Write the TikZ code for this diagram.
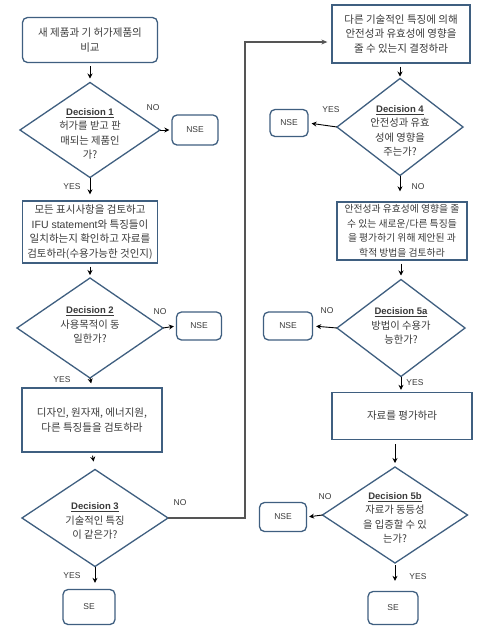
\documentclass[tikz,border=0pt]{standalone}
\usepackage{fontspec}
\setmainfont{Liberation Sans}
\newfontfamily\kr{Noto Sans CJK KR}
\usetikzlibrary{arrows.meta}
\definecolor{bord}{HTML}{3F5F80}
\definecolor{txt}{HTML}{3A3A3A}
\definecolor{conn}{HTML}{555555}
\tikzset{
  base/.style={draw=bord, line width=1.3pt, text=txt, align=center, inner sep=0pt},
  rbox/.style={base, rounded corners=5pt},
  sbox/.style={base},
  dtext/.style={text=txt, align=center, font=\fontsize{10.3}{14.5}\selectfont},
  btext/.style={font=\fontsize{10.5}{14.7}\selectfont},
  arr/.style={draw=black, line width=0.9pt, -{Stealth[length=5pt,width=5pt]}},
  lab/.style={text=txt, font=\fontsize{8.5}{10}\selectfont, inner sep=0pt},
}
\newcommand\mydia[5]{%
  \draw[draw=bord, line width=1.3pt] (#2-#4/2,#3) -- (#2,#3-#5/2) -- (#2+#4/2,#3) -- (#2,#3+#5/2) -- cycle;
  \coordinate (#1-l) at (#2-#4/2,#3);
  \coordinate (#1-r) at (#2+#4/2,#3);
  \coordinate (#1-t) at (#2,#3-#5/2);
  \coordinate (#1-b) at (#2,#3+#5/2);
}
\newcommand\dlab[1]{{\fontsize{9.5}{14.5}\selectfont\textbf{\underline{#1}}}}
\begin{document}
\begin{tikzpicture}[x=1pt,y=-1pt]
\useasboundingbox (0,0) rectangle (485,638);
\fill[white] (0,0) rectangle (485,638);

% ---- left column
\node[rbox, btext, minimum width=135pt, minimum height=45pt] (b1) at (90,40) {\kr 새 제품과 기 허가제품의\\\kr 비교};
\mydia{d1}{90}{130}{140}{95}
\node[dtext] (d1t) at (90,134) {\dlab{Decision 1}\\\kr 허가를 받고 판\\\kr 매되는 제품인\\\kr 가?};
\node[rbox, minimum width=46pt, minimum height=30pt, font=\fontsize{8.5}{10}\selectfont] (n1) at (195,130) {NSE};

\node[sbox, btext, minimum width=135pt, minimum height=62pt] (b2) at (90,232) {\kr 모든 표시사항을 검토하고\\IFU statement{\kr 와 특징들이}\\\kr 일치하는지 확인하고 자료를\\\kr 검토하라(수용가능한 것인지)};
\mydia{d2}{90}{328}{146}{100}
\node[dtext] (d2t) at (90,325) {\dlab{Decision 2}\\\kr 사용목적이 동\\\kr 일한가?};
\node[rbox, minimum width=45pt, minimum height=28pt, font=\fontsize{8.5}{10}\selectfont] (n2) at (199,326) {NSE};

\node[sbox, btext, minimum width=140pt, minimum height=64pt] (b3) at (92,420) {\kr 디자인, 원자재, 에너지원,\\\kr 다른 특징들을 검토하라};
\mydia{d3}{95}{518}{146}{97}
\node[dtext] (d3t) at (95,521) {\dlab{Decision 3}\\\kr 기술적인 특징\\\kr 이 같은가?};
\node[rbox, minimum width=52pt, minimum height=35pt, font=\fontsize{8.5}{10}\selectfont] (s1) at (89,607) {SE};

% ---- right column
\node[sbox, btext, minimum width=138pt, minimum height=58pt] (b4) at (401,34) {\kr 다른 기술적인 특징에 의해\\\kr 안전성과 유효성에 영향을\\\kr 줄 수 있는지 결정하라};
\mydia{d4}{400}{127}{126}{97}
\node[dtext] (d4t) at (400,131) {\dlab{Decision 4}\\\kr 안전성과 유효\\\kr 성에 영향을\\\kr 주는가?};
\node[rbox, minimum width=38pt, minimum height=27pt, font=\fontsize{8.5}{10}\selectfont] (n4) at (289,123) {NSE};

\node[sbox, font=\fontsize{9.8}{14.5}\selectfont, minimum width=130pt, minimum height=58pt] (b5) at (402,231) {\kr 안전성과 유효성에 영향을 줄\\\kr 수 있는 새로운/다른 특징들\\\kr 을 평가하기 위해 제안된 과\\\kr 학적 방법을 검토하라};
\mydia{d5a}{401}{328}{128}{97}
\node[dtext] (d5at) at (401,326) {\dlab{Decision 5a}\\\kr 방법이 수용가\\\kr 능한가?};
\node[rbox, minimum width=49pt, minimum height=28pt, font=\fontsize{8.5}{10}\selectfont] (n5a) at (288,326) {NSE};

\node[sbox, btext, minimum width=140pt, minimum height=47pt] (b6) at (402,416) {\kr 자료를 평가하라};
\mydia{d5b}{395}{515}{145}{96}
\node[dtext] (d5bt) at (395,518) {\dlab{Decision 5b}\\\kr 자료가 동등성\\\kr 을 입증할 수 있\\\kr 는가?};
\node[rbox, minimum width=47pt, minimum height=29pt, font=\fontsize{8.5}{10}\selectfont] (n5b) at (283,517) {NSE};
\node[rbox, minimum width=50pt, minimum height=33pt, font=\fontsize{8.5}{10}\selectfont] (s2) at (393,608) {SE};

% ---- connectors left
\draw[arr, shorten <=3pt, shorten >=4pt] (b1.south) -- (d1-t);
\draw[arr, shorten >=2pt] (d1-r) -- (n1.west);
\node[lab] (l1) at (153,108) {NO};
\draw[arr, shorten >=6pt] (d1-b) -- (b2.north);
\node[lab] (l2) at (72,187) {YES};
\draw[arr, shorten <=3pt, shorten >=3pt] (b2.south) -- (d2-t);
\draw[arr, shorten >=2pt] (d2-r) -- (n2.west);
\node[lab] (l3) at (160,312) {NO};
\draw[arr, shorten >=4pt] (d2-b) -- (b3.north);
\node[lab] (l4) at (62,380) {YES};
\draw[arr, shorten <=3pt, shorten >=8pt] (b3.south) -- (d3-t);
\draw[arr, shorten >=6pt] (d3-b) -- (s1.north -| d3-b);
\node[lab] (l5) at (72,576) {YES};
\coordinate (c1) at (245,518);
\coordinate (c2) at (245,42);
\draw[draw=conn, line width=1.2pt, -{Stealth[length=6pt,width=5pt]}, shorten >=4pt] (d3-r) -- (c1) -- (c2) -- (c2 -| b4.west);
\node[lab] (l6) at (180,503) {NO};

% ---- connectors right
\draw[arr, shorten <=3pt, shorten >=2pt] (b4.south -| d4-t) -- (d4-t);
\draw[arr, shorten >=3pt] (d4-l) -- (n4.east);
\node[lab] (l7) at (331,110) {YES};
\draw[arr, shorten >=10pt] (d4-b) -- (b5.north -| d4-b);
\node[lab] (l8) at (418,187) {NO};
\draw[arr, shorten <=3pt, shorten >=4pt] (b5.south -| d5a-t) -- (d5a-t);
\draw[arr, shorten >=3pt] (d5a-l) -- (n5a.east);
\node[lab] (l9) at (327,311) {NO};
\draw[arr, shorten >=2pt] (d5a-b) -- (b6.north -| d5a-b);
\node[lab] (l10) at (415,383) {YES};
\draw[arr, shorten <=4pt, shorten >=4pt] (b6.south -| d5b-t) -- (d5b-t);
\draw[arr, shorten >=2pt] (d5b-l) -- (n5b.east);
\node[lab] (l11) at (325,497) {NO};
\draw[arr, shorten <=2pt, shorten >=10pt] (d5b-b) -- (s2.north -| d5b-b);
\node[lab] (l12) at (418,577) {YES};
\end{tikzpicture}
\end{document}
